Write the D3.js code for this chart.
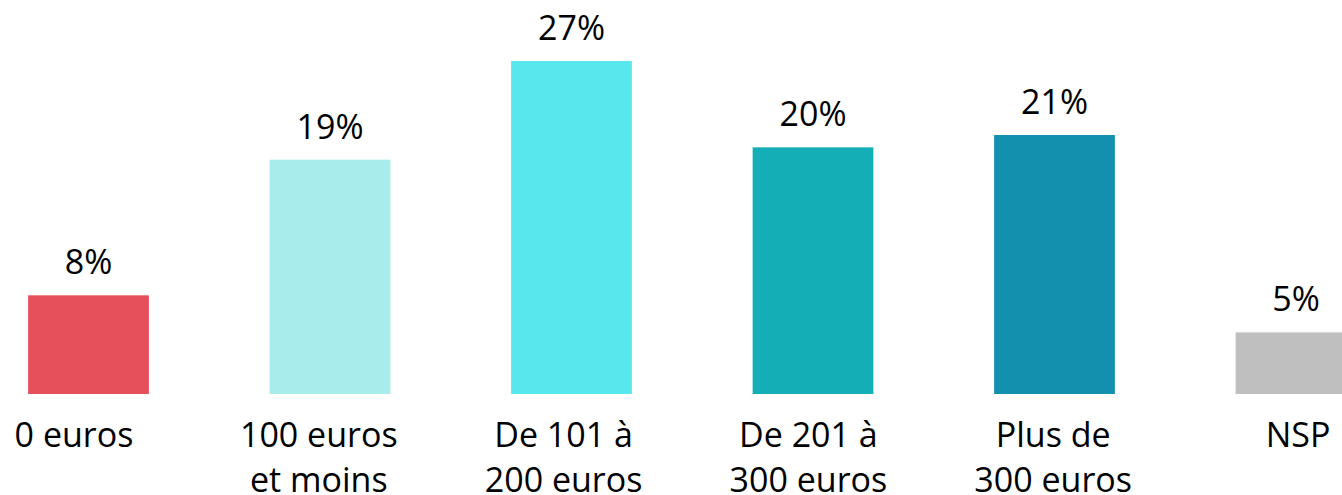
<!DOCTYPE html>
<html>
<head>
<meta charset="utf-8">
<script src="https://cdn.jsdelivr.net/npm/d3@7"></script>
<style>
  body { margin: 0; background: #fff; }
  svg { display: block; font-family: "Open Sans", "Noto Sans", sans-serif; }
</style>
</head>
<body>
<div id="chart"></div>
<script>
// categories (each label split in lines)
var categories = ["0 euros", "100 euros et moins", "De 101 à 200 euros", "De 201 à 300 euros", "Plus de 300 euros", "NSP"];
var labelLines = [["0 euros"], ["100 euros", "et moins"], ["De 101 à", "200 euros"], ["De 201 à", "300 euros"], ["Plus de", "300 euros"], ["NSP"]];
var values = [8, 19, 27, 20, 21, 5];
var colors = ["#e6505a", "#a8ecec", "#59e7ee", "#14afb6", "#1490af", "#bfbfbf"];

var width = 1342, height = 495;
var baseline = 394;

var svg = d3.select("#chart").append("svg")
    .attr("width", width)
    .attr("height", height);

// x band runs past the right edge, the last bar is cut like in the original
var x = d3.scaleBand()
    .domain(categories)
    .range([-32.25, 1416.75])
    .paddingInner(0.5)
    .paddingOuter(0.25);

// category labels sit on their own, slightly wider, spacing
var xLabel = d3.scalePoint()
    .domain(categories)
    .range([74, 1298]);

var y = d3.scaleLinear()
    .domain([0, 27])
    .range([baseline, 61]);

// bars
svg.selectAll("rect.bar")
    .data(values)
    .enter().append("rect")
    .attr("class", "bar")
    .attr("x", function (d, i) { return x(categories[i]); })
    .attr("y", function (d) { return y(d); })
    .attr("width", x.bandwidth())
    .attr("height", function (d) { return baseline - y(d); })
    .attr("fill", function (d, i) { return colors[i]; });

// value labels
svg.selectAll("text.val")
    .data(values)
    .enter().append("text")
    .attr("class", "val")
    .attr("x", function (d, i) { return x(categories[i]) + x.bandwidth() / 2; })
    .attr("y", function (d) { return y(d) - 21; })
    .attr("text-anchor", "middle")
    .attr("font-size", 34)
    .attr("fill", "#000")
    .text(function (d) { return d + "%"; });

// category labels
var cat = svg.selectAll("text.cat")
    .data(labelLines)
    .enter().append("text")
    .attr("class", "cat")
    .attr("text-anchor", "middle")
    .attr("font-size", 34)
    .attr("fill", "#000");
cat.selectAll("tspan")
    .data(function (d, i) { return d.map(function (t) { return { t: t, i: i }; }); })
    .enter().append("tspan")
    .attr("x", function (d) { return xLabel(categories[d.i]); })
    .attr("y", function (d, j) { return 447 + j * 45; })
    .text(function (d) { return d.t; });
</script>
</body>
</html>
